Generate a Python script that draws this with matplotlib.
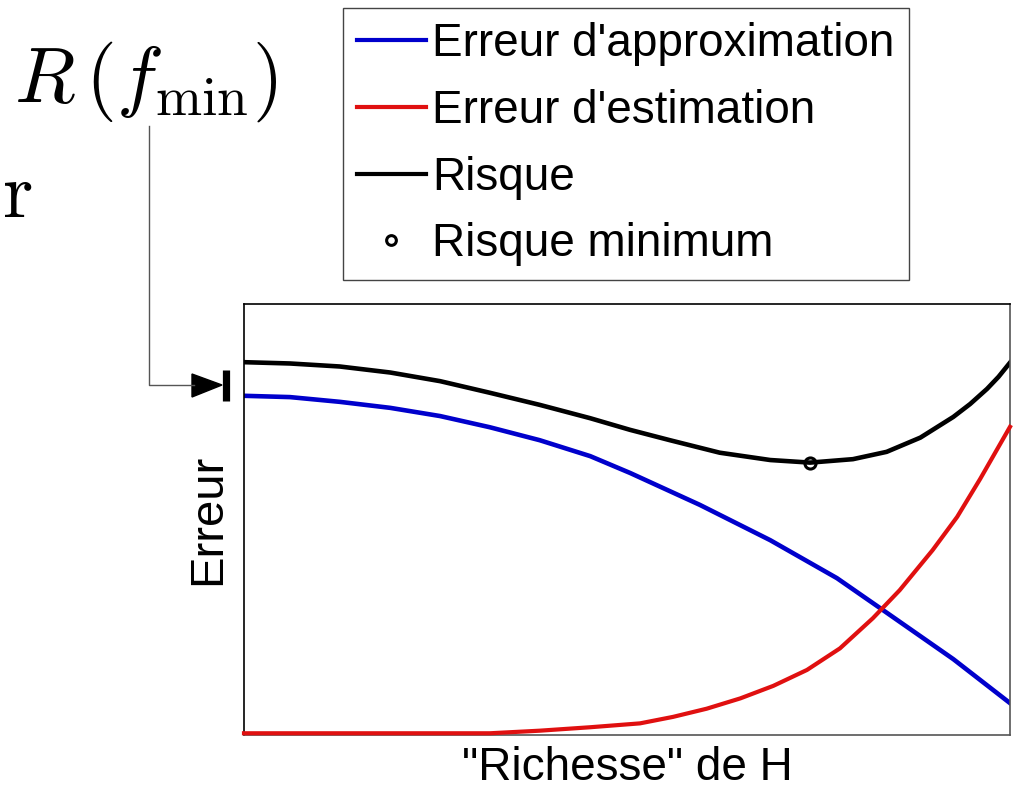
import matplotlib
matplotlib.use("Agg")
import matplotlib.pyplot as plt
from matplotlib.lines import Line2D
from matplotlib.patches import Polygon

plt.rcParams['font.family'] = ['Liberation Sans', 'DejaVu Sans']
plt.rcParams['mathtext.fontset'] = 'cm'

# values (x: 0..10 "richesse", y: 0..10 erreur)
approx_x = [0, 0.60, 1.25, 1.91, 2.56, 3.21, 3.86, 4.52, 5.04, 5.95, 6.87, 7.74, 8.34, 9.26, 10]
approx_y = [7.87, 7.84, 7.73, 7.59, 7.40, 7.14, 6.84, 6.47, 6.08, 5.34, 4.52, 3.64, 2.90, 1.76, 0.74]

estim_x = [0, 1.60, 3.21, 3.86, 4.52, 5.17, 5.60, 6.04, 6.48, 6.91, 7.35, 7.78, 8.21, 8.56, 8.99, 9.31, 9.61, 10]
estim_y = [0.04, 0.04, 0.04, 0.10, 0.18, 0.27, 0.42, 0.61, 0.85, 1.14, 1.51, 2.01, 2.71, 3.36, 4.29, 5.06, 5.94, 7.15]

risk_x = [0, 0.60, 1.25, 1.91, 2.56, 3.21, 3.86, 4.52, 5.04, 5.56, 6.21, 6.87, 7.39, 7.95, 8.39, 8.83, 9.26, 9.48, 9.70, 9.85, 10]
risk_y = [8.65, 8.62, 8.55, 8.41, 8.21, 7.94, 7.66, 7.35, 7.08, 6.84, 6.55, 6.38, 6.32, 6.40, 6.57, 6.90, 7.38, 7.68, 8.03, 8.31, 8.64]

min_x = 7.39
min_y = 6.32

labels = ["Erreur d'approximation", "Erreur d'estimation", "Risque", "Risque minimum"]

W, H = 1013, 792


def px(x, y):
    # pixel position (from top left) to figure fraction
    return x / W, 1 - y / H


fig = plt.figure(figsize=(W / 100, H / 100), dpi=100)
ax = fig.add_axes([244 / W, 57 / H, 766 / W, 431 / H])

l1, = ax.plot(approx_x, approx_y, color='#0000cc', lw=3.3)
l2, = ax.plot(estim_x, estim_y, color='#e01010', lw=3.0, clip_on=False, zorder=3)
l3, = ax.plot(risk_x, risk_y, color='black', lw=3.3)
l4, = ax.plot([min_x], [min_y], 'o', color='black', mfc='none', ms=8, mew=2.2)

ax.set_xlim(0, 10)
ax.set_ylim(0, 10)
ax.set_xticks([])
ax.set_yticks([])
for s in ax.spines.values():
    s.set_linewidth(1.2)
ax.spines['bottom'].set_color('#555555')
ax.spines['right'].set_color('#555555')

ax.set_xlabel('"Richesse" de H', fontsize=33, labelpad=8)
ax.set_ylabel('Erreur', fontsize=34, labelpad=10)

h4 = Line2D([], [], ls='none', marker='o', color='black', mfc='none', ms=7, mew=2.2)
leg = ax.legend([l1, l2, l3, h4], labels, loc='upper left',
                bbox_to_anchor=px(343, 8), bbox_transform=fig.transFigure,
                fontsize=33, borderaxespad=0, borderpad=0.3, labelspacing=0.5,
                handlelength=1.5, handletextpad=0.15, fancybox=False,
                framealpha=1, edgecolor='#444444')
leg.get_frame().set_linewidth(1.0)
for ln in leg.get_lines()[:3]:
    ln.set_linewidth(3)

# annotation R(f_min) with bent arrow
fig.text(*px(14, 102), r'$R\,(f_{\min})$', fontsize=57, va='baseline', ha='left')
fig.text(*px(2, 217), r'$\mathrm{r}$', fontsize=56, va='baseline', ha='left')

xs, ys = zip(px(149, 126), px(149, 385), px(194, 385))
fig.add_artist(Line2D(xs, ys, color='#555555', lw=1.0, transform=fig.transFigure))
fig.add_artist(Polygon([px(192, 374), px(192, 397), px(222, 385)], closed=True,
                       color='black', transform=fig.transFigure))
xs, ys = zip(px(225.5, 370), px(225.5, 401))
fig.add_artist(Line2D(xs, ys, color='black', lw=5.2, solid_capstyle='butt',
                      transform=fig.transFigure))

fig.savefig('out.png', dpi=100)
